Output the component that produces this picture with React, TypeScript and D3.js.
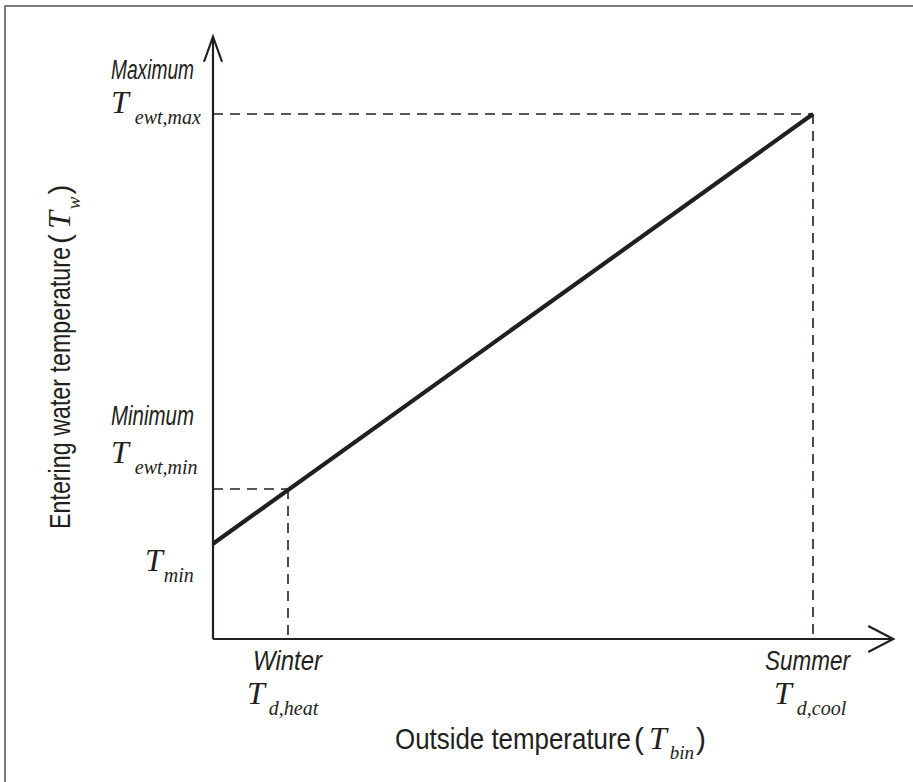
import React from "react";
import * as d3 from "d3";

// Conceptual (unitless) values
const outsideLabels = ["T_d,heat", "T_d,cool"];
const outsideValues = [1, 8]; // winter design, summer design
const waterLabels = ["T_min", "T_ewt,min", "T_ewt,max"];
const waterValues = [1.27, 2.0, 7.0];
const lineX = [0, 8];
const lineY = [1.27, 7.0];
const xAxisMax = 9.07;
const yAxisMax = 8.03;

const W = 913;
const H = 782;
const SANS = "'Liberation Sans', Arial, sans-serif";
const SERIF = "'Liberation Serif', 'Times New Roman', serif";
const INK = "#231f20";

const sub = (s: string) => s.split("_")[1];

function TLabel({ x, y, s, dx = 4 }: { x: number; y: number; s: string; dx?: number }) {
  return (
    <text x={x} y={y} style={{ fontFamily: SERIF, fontStyle: "italic", fontSize: 32, fill: INK }}>
      T
      <tspan dx={dx} dy={11} style={{ fontSize: 20 }}>{s}</tspan>
    </text>
  );
}

export default function App() {
  const x = d3.scaleLinear().domain([0, 1]).range([213, 288]);
  const y = d3.scaleLinear().domain([0, 1]).range([639, 564]);
  const line = d3
    .line<number>()
    .x((_, i) => x(lineX[i]))
    .y((d) => y(d));

  const x0 = x(0);
  const y0 = y(0);
  const xEnd = x(xAxisMax);
  const yEnd = y(yAxisMax);
  const xHeat = x(outsideValues[0]);
  const xCool = x(outsideValues[1]);
  const yMin = y(waterValues[0]);
  const yEwtMin = y(waterValues[1]);
  const yEwtMax = y(waterValues[2]);

  const dash = "10 7";
  const labStyle = { fontFamily: SANS, fontStyle: "italic", fontSize: 27, fill: INK } as const;
  const titleStyle = { fontFamily: SANS, fontSize: 30, fill: INK } as const;
  const tSpan = { fontFamily: SERIF, fontStyle: "italic", fontSize: 32 } as const;
  const subSpan = { fontFamily: SERIF, fontStyle: "italic", fontSize: 19 } as const;

  return (
    <svg
      width={W}
      height={H}
      style={{ position: "absolute", left: 0, top: 0, background: "#fff" }}
    >
      <rect x={5} y={6} width={W + 10} height={H + 10} fill="#fff" stroke="#6d6d6d" strokeWidth={1.8} />

      {/* dashed guides */}
      <g stroke={INK} strokeWidth={1.6} strokeDasharray={dash} fill="none">
        <line x1={x0} y1={yEwtMax} x2={xCool} y2={yEwtMax} />
        <line x1={xCool} y1={yEwtMax} x2={xCool} y2={y0} />
        <line x1={x0} y1={yEwtMin} x2={xHeat} y2={yEwtMin} />
        <line x1={xHeat} y1={yEwtMin} x2={xHeat} y2={y0} />
      </g>

      {/* axes */}
      <g stroke={INK} strokeWidth={2.2} fill="none">
        <line x1={x0} y1={y0} x2={xEnd} y2={y0} />
        <line x1={x0} y1={y0} x2={x0} y2={yEnd} />
        <polyline points={`${xEnd - 25},${y0 - 13} ${xEnd},${y0} ${xEnd - 25},${y0 + 13}`} />
        <polyline points={`${x0 - 9},${yEnd + 25} ${x0},${yEnd} ${x0 + 9},${yEnd + 25}`} />
      </g>

      {/* main line */}
      <path d={line(lineY) || ""} stroke={INK} strokeWidth={4.2} fill="none" />

      {/* y labels */}
      <text x={111} y={yEwtMax - 35} textLength={83} lengthAdjust="spacingAndGlyphs" style={labStyle}>Maximum</text>
      <TLabel x={111} y={yEwtMax - 1} s={sub(waterLabels[2])} dx={6} />

      <text x={111} y={yEwtMin - 64} textLength={83} lengthAdjust="spacingAndGlyphs" style={labStyle}>Minimum</text>
      <TLabel x={111} y={yEwtMin - 26} s={sub(waterLabels[1])} dx={6} />

      <TLabel x={145} y={yMin + 27} s={sub(waterLabels[0])} dx={1} />

      {/* x labels */}
      <text x={253} y={y0 + 31} textLength={69} lengthAdjust="spacingAndGlyphs" style={labStyle}>Winter</text>
      <TLabel x={247} y={y0 + 65} s={sub(outsideLabels[0])} dx={4} />

      <text x={765} y={y0 + 31} textLength={85} lengthAdjust="spacingAndGlyphs" style={labStyle}>Summer</text>
      <TLabel x={774} y={y0 + 65} s={sub(outsideLabels[1])} dx={5} />

      {/* x axis title */}
      <text x={395} y={749} textLength={236} lengthAdjust="spacingAndGlyphs" style={titleStyle}>
        Outside temperature
      </text>
      <text x={634} y={749} style={titleStyle}>
        (<tspan dx={5} style={tSpan}>T</tspan>
        <tspan dx={3} dy={10} style={subSpan}>bin</tspan>
        <tspan dx={2} dy={-10}>)</tspan>
      </text>

      {/* y axis title */}
      <g transform="translate(70,529) rotate(-90)">
        <text x={0} y={0} textLength={282} lengthAdjust="spacingAndGlyphs" style={titleStyle}>
          Entering water temperature
        </text>
        <text x={285} y={0} style={titleStyle}>
          (<tspan dx={5} style={tSpan}>T</tspan>
          <tspan dx={2} dy={10} style={subSpan}>w</tspan>
          <tspan dx={2} dy={-10}>)</tspan>
        </text>
      </g>
    </svg>
  );
}
